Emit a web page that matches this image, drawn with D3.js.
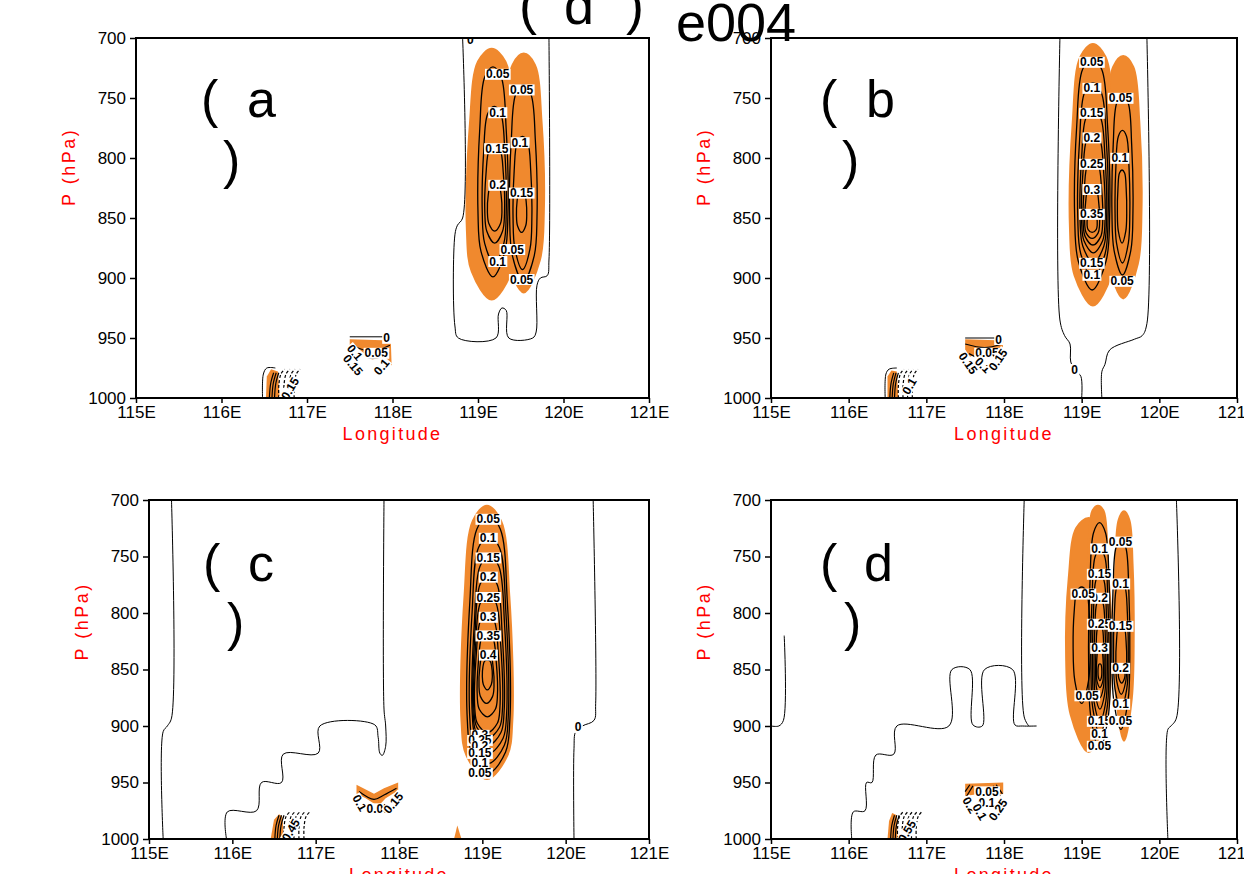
<!DOCTYPE html>
<html>
<head>
<meta charset="utf-8">
<script src="https://cdn.jsdelivr.net/npm/d3@7.9.0/dist/d3.min.js"></script>
<style>
  body { margin: 0; background: #fff; }
  svg { display: block; font-family: "Liberation Sans", Arial, sans-serif; }
</style>
</head>
<body>
<svg id="chart" width="1244" height="874"></svg>
<script>
const lonTicks = [115, 116, 117, 118, 119, 120, 121];
const presTicks = [700, 750, 800, 850, 900, 950, 1000];

// contour rings: [level, lonLeft, lonRight, pTop, pWidest, pBottom]
// orange fills:  [lonLeft, lonRight, pTop, pWidest, pBottom]
// labels:        [text, lon, p, rotation]

// ---- panel a
const ringsA = [
  [0.05, 119.0, 119.35, 724, 846, 899],
  [0.1, 119.05, 119.33, 757, 846, 888],
  [0.15, 119.08, 119.31, 789, 846, 871],
  [0.2, 119.11, 119.28, 820, 845, 861],
  [0.05, 119.37, 119.69, 739, 849, 903],
  [0.1, 119.41, 119.63, 782, 850, 893],
  [0.15, 119.45, 119.57, 827, 848, 862]
];
const fillA = [[118.87, 119.45, 709, 860, 918], [119.3, 119.77, 713, 845, 912]];
const labelsA = [
  ['0.05', 119.23, 730], ['0.05', 119.51, 743], ['0.1', 119.23, 762], ['0.1', 119.49, 787],
  ['0.15', 119.22, 792], ['0.2', 119.23, 822.5], ['0.15', 119.51, 829], ['0.05', 119.40, 876],
  ['0.1', 119.23, 886], ['0.05', 119.51, 901], ['0', 118.91, 701],
  ['0', 117.93, 950], ['0.05', 117.81, 962.5], ['0.1', 117.56, 962, 50], ['0.15', 117.54, 972.5, 50],
  ['0.1', 117.87, 974, -50], ['0.15', 116.8, 992, -60]
];
const zeroA = [
  [[118.82, 700], [118.82, 850], [118.76, 856], [118.73, 864], [118.73, 940], [118.77, 950], [119.21, 950],
   [119.24, 930], [119.28, 925], [119.33, 927], [119.36, 950], [119.64, 950], [119.68, 945], [119.69, 906],
   [119.73, 900], [119.81, 898], [119.83, 885], [119.83, 700]],
  [[116.48, 1000], [116.49, 980], [116.53, 975], [116.63, 975]],
  [[117.5, 949], [117.97, 949]]
];
const patchA = [
  [[116.52, 1000], [116.53, 982], [116.58, 976], [116.66, 978], [116.68, 1000]],
  [[117.5, 951], [117.98, 952], [117.99, 973], [117.9, 966], [117.76, 968], [117.62, 960], [117.5, 957]]
];
const linesA = [[[117.52, 956], [117.75, 961], [117.97, 956]], [[117.56, 962], [117.78, 967], [117.96, 962]]];
const solidA = [116.56, 116.59, 116.62];
const dashA = [116.67, 116.73, 116.79, 116.85];

// ---- panel b
const ringsB = [
  [0.05, 118.91, 119.36, 717, 849, 910],
  [0.1, 118.95, 119.34, 737.5, 850, 900],
  [0.15, 118.98, 119.32, 760, 852, 887.5],
  [0.2, 119.0, 119.3, 779, 854, 879],
  [0.25, 119.02, 119.27, 802, 855, 872.5],
  [0.3, 119.04, 119.23, 822.5, 856, 867],
  [0.35, 119.07, 119.2, 843, 856, 862],
  [0.05, 119.39, 119.66, 747.5, 846, 897.5],
  [0.1, 119.43, 119.62, 777, 846, 887.5],
  [0.15, 119.46, 119.58, 810, 846, 871]
];
const fillB = [[118.85, 119.44, 705, 860, 923], [119.3, 119.77, 715, 845, 917]];
const labelsB = [
  ['0.05', 119.13, 720], ['0.1', 119.13, 741.7], ['0.15', 119.13, 762.5], ['0.2', 119.13, 783],
  ['0.25', 119.13, 805], ['0.3', 119.13, 826], ['0.35', 119.13, 846.7], ['0.05', 119.5, 750],
  ['0.1', 119.49, 800], ['0.15', 119.13, 887.5], ['0.1', 119.13, 897.5], ['0.05', 119.52, 902.5],
  ['0', 118.91, 976],
  ['0', 117.93, 951], ['0.05', 117.78, 962.5], ['0.15', 117.54, 971, 55], ['0.1', 117.73, 972.5, 45],
  ['0.15', 117.92, 968, -55], ['0.1', 116.78, 990, -60]
];
const zeroB = [
  [[118.72, 700], [118.72, 935], [118.78, 948], [118.85, 955], [118.86, 970], [118.92, 977], [118.99, 982], [119.0, 1000]],
  [[119.84, 700], [119.84, 938], [119.78, 948], [119.68, 951], [119.36, 960], [119.3, 972], [119.26, 978], [119.26, 1000]],
  [[116.47, 1000], [116.48, 980], [116.52, 976], [116.62, 975]],
  [[117.5, 950], [117.91, 950]]
];
const patchB = [
  [[116.5, 1000], [116.5, 982], [116.55, 977], [116.62, 978], [116.64, 1000]],
  [[117.5, 951], [117.99, 952], [117.98, 962], [117.88, 968], [117.8, 963], [117.68, 962], [117.55, 966], [117.5, 960]]
];
const linesB = [[[117.5, 955], [117.75, 958], [117.98, 955]], [[117.55, 963], [117.7, 968]], [[117.85, 968], [117.97, 961]]];
const solidB = [116.53, 116.56, 116.59];
const dashB = [116.64, 116.7, 116.76, 116.82];

// ---- panel c
const ringsC = [
  [0.05, 118.82, 119.33, 713, 895, 941.6],
  [0.1, 118.85, 119.31, 731, 893, 933],
  [0.15, 118.88, 119.29, 748.7, 891, 924],
  [0.2, 118.89, 119.26, 766, 889, 917],
  [0.25, 118.9, 119.24, 784, 887, 910.6],
  [0.3, 118.91, 119.21, 801, 885, 906],
  [0.35, 118.94, 119.18, 818, 875, 892],
  [0.4, 118.96, 119.14, 835, 865, 880],
  [0.45, 119.0, 119.12, 841.6, 856, 868]
];
const fillC = [[118.75, 119.36, 705, 895, 947]];
const labelsC = [
  ['0.05', 119.07, 716.8], ['0.1', 119.07, 733.6], ['0.15', 119.07, 751], ['0.2', 119.07, 768],
  ['0.25', 119.07, 786], ['0.3', 119.07, 803.5], ['0.35', 119.07, 820], ['0.4', 119.07, 837],
  ['0.3', 118.97, 908], ['0.25', 118.97, 912.5], ['0.2', 118.97, 917.7], ['0.15', 118.97, 924],
  ['0.1', 118.97, 932.7], ['0.05', 118.97, 941.6], ['0', 120.15, 901],
  ['0.1', 117.53, 968, 60], ['0.05', 117.75, 973], ['0.15', 117.93, 968, -50], ['0.45', 116.7, 992, -60]
];
const zeroC = [
  [[115.27, 700], [115.27, 893], [115.22, 900], [115.17, 905], [115.17, 1000]],
  [[115.93, 1000], [115.94, 976], [116.29, 975], [116.35, 950], [116.59, 950], [116.61, 925], [117.03, 924],
   [117.05, 900], [117.71, 899], [117.75, 910], [117.77, 924], [117.8, 926], [117.84, 918], [117.84, 900],
   [117.82, 885], [117.82, 700]],
  [[120.33, 700], [120.36, 880], [120.34, 895], [120.2, 900], [120.12, 905], [120.1, 920], [120.1, 1000]]
];
const patchC = [
  [[116.46, 1000], [116.5, 983], [116.56, 978], [116.6, 980], [116.62, 1000]],
  [[117.49, 952], [117.7, 960], [117.82, 955], [117.99, 950], [117.99, 957], [117.84, 964], [117.75, 971], [117.6, 964], [117.49, 960]],
  [[118.66, 1000], [118.7, 988], [118.75, 1000]]
];
const linesC = [[[117.52, 958], [117.7, 965], [117.82, 961], [117.97, 955]]];
const solidC = [116.51, 116.54, 116.57];
const dashC = [116.62, 116.68, 116.74, 116.8, 116.86];

// ---- panel d
const ringsD = [
  [0.05, 119.09, 119.37, 720, 848, 921],
  [0.1, 119.12, 119.35, 743, 850, 907],
  [0.15, 119.14, 119.33, 765, 852, 896],
  [0.2, 119.16, 119.31, 787, 853, 885],
  [0.25, 119.18, 119.29, 810, 853, 875],
  [0.3, 119.19, 119.28, 831, 853, 866],
  [0.35, 119.21, 119.26, 845, 852, 860],
  [0.05, 118.89, 119.11, 777, 830, 880],
  [0.05, 119.39, 119.62, 735, 839, 903],
  [0.1, 119.41, 119.6, 772, 840, 885],
  [0.15, 119.44, 119.58, 810, 845, 872],
  [0.2, 119.47, 119.56, 846, 852, 862]
];
const fillD = [[118.8, 119.38, 716, 840, 923], [119.08, 119.34, 705, 770, 850], [119.42, 119.67, 710, 820, 913]];
const labelsD = [
  ['0.1', 119.23, 743], ['0.15', 119.23, 765.5], ['0.2', 119.23, 786.7], ['0.25', 119.23, 809.7],
  ['0.3', 119.23, 831], ['0.15', 119.23, 895.6], ['0.1', 119.23, 907], ['0.05', 119.23, 917.7],
  ['0.05', 119.02, 783], ['0.05', 119.07, 873],
  ['0.05', 119.5, 737], ['0.1', 119.5, 774], ['0.15', 119.5, 811.5], ['0.2', 119.5, 848.7],
  ['0.1', 119.5, 880.5], ['0.05', 119.5, 895.6],
  ['0.05', 117.78, 958], ['0.2', 117.56, 970, 60], ['0.1', 117.78, 968], ['0.1', 117.69, 976, 60],
  ['0.25', 117.92, 974, -55], ['0.55', 116.75, 993, -60]
];
const zeroD = [
  [[116.04, 1000], [116.06, 976], [116.21, 975], [116.23, 950], [116.30, 950], [116.35, 925.7], [116.58, 925],
   [116.62, 900], [117.29, 900], [117.33, 850], [117.56, 850], [117.6, 899], [117.72, 900], [117.75, 850],
   [118.11, 850], [118.14, 899], [118.24, 900], [118.42, 900]],
  [[118.26, 700], [118.26, 892], [118.32, 900]],
  [[115.17, 820], [115.16, 895], [115.1, 900], [115.0, 900]],
  [[120.22, 700], [120.22, 893], [120.15, 900], [120.11, 903], [120.11, 1000]]
];
const patchD = [
  [[116.5, 1000], [116.52, 984], [116.56, 977], [116.62, 979], [116.63, 1000]],
  [[117.5, 951], [117.99, 950], [117.99, 960], [117.85, 962], [117.7, 960], [117.5, 962]]
];
const linesD = [[[117.5, 958], [117.56, 952]], [[117.52, 962], [117.6, 953]], [[117.9, 952], [117.98, 960]], [[117.86, 953], [117.95, 962]]];
const solidD = [116.54, 116.57, 116.6];
const dashD = [116.63, 116.69, 116.75, 116.81, 116.87];

const panels = [
  { x0: 136, x1: 649, y0: 38, y1: 398, tag: 'a', tagX: [201, 247, 223], tagY: [117, 178],
    rings: ringsA, fills: fillA, labels: labelsA, zero: zeroA, patches: patchA, lines: linesA, solid: solidA, dash: dashA },
  { x0: 771, x1: 1237, y0: 38, y1: 398, tag: 'b', tagX: [820, 866, 842], tagY: [117, 178],
    rings: ringsB, fills: fillB, labels: labelsB, zero: zeroB, patches: patchB, lines: linesB, solid: solidB, dash: dashB },
  { x0: 149, x1: 649, y0: 500, y1: 839, tag: 'c', tagX: [203, 248, 227], tagY: [581, 640],
    rings: ringsC, fills: fillC, labels: labelsC, zero: zeroC, patches: patchC, lines: linesC, solid: solidC, dash: dashC },
  { x0: 771, x1: 1237, y0: 500, y1: 839, tag: 'd', tagX: [820, 864, 844], tagY: [581, 640],
    rings: ringsD, fills: fillD, labels: labelsD, zero: zeroD, patches: patchD, lines: linesD, solid: solidD, dash: dashD }
];

const ORANGE = '#f0892e';
const svg = d3.select('#chart');

// closed egg-shaped ring through the read extents
function ovalPts(lonL, lonR, pTop, pWide, pBot) {
  const cx = (lonL + lonR) / 2, rx = (lonR - lonL) / 2;
  const up = pWide - pTop, dn = pBot - pWide;
  const half = [[0, pTop], [0.55, pTop + 0.07 * up], [0.88, pTop + 0.42 * up], [1, pWide], [0.8, pWide + 0.6 * dn]];
  const right = half.map(([f, p]) => [cx + f * rx, p]);
  const left = half.slice(1).reverse().map(([f, p]) => [cx - f * rx, p]);
  return [...right, [cx, pBot], ...left];
}

panels.forEach((pn, i) => {
  const x = d3.scaleLinear().domain([115, 121]).range([pn.x0, pn.x1]);
  const y = d3.scaleLinear().domain([700, 1000]).range([pn.y0, pn.y1]);
  const g = svg.append('g');

  g.append('clipPath').attr('id', 'clip' + i)
    .append('rect').attr('x', pn.x0).attr('y', pn.y0)
    .attr('width', pn.x1 - pn.x0).attr('height', pn.y1 - pn.y0);
  const plot = g.append('g').attr('clip-path', `url(#clip${i})`);

  const smooth = d3.line().x((d) => x(d[0])).y((d) => y(d[1])).curve(d3.curveCatmullRomClosed.alpha(0.5));
  const poly = d3.line().x((d) => x(d[0])).y((d) => y(d[1])).curve(d3.curveLinearClosed);
  const open = d3.line().x((d) => x(d[0])).y((d) => y(d[1])).curve(d3.curveCatmullRom.alpha(0.5));

  // orange shading
  plot.selectAll('path.fill').data(pn.fills).join('path')
    .attr('class', 'fill').attr('d', (d) => smooth(ovalPts(...d)))
    .attr('fill', ORANGE).attr('stroke', ORANGE).attr('stroke-width', 2);
  plot.selectAll('path.patch').data(pn.patches).join('path')
    .attr('class', 'patch').attr('d', poly).attr('fill', ORANGE);

  // zero contour
  plot.selectAll('path.zero').data(pn.zero).join('path')
    .attr('class', 'zero').attr('d', open)
    .attr('fill', 'none').attr('stroke', '#000').attr('stroke-width', 1);

  // positive contours
  plot.selectAll('path.ring').data(pn.rings).join('path')
    .attr('class', 'ring').attr('d', (d) => smooth(ovalPts(d[1], d[2], d[3], d[4], d[5])))
    .attr('fill', 'none').attr('stroke', '#000').attr('stroke-width', 1.3);
  plot.selectAll('path.line').data(pn.lines).join('path')
    .attr('class', 'line').attr('d', open)
    .attr('fill', 'none').attr('stroke', '#000').attr('stroke-width', 1.2);

  // near-surface contours
  plot.selectAll('path.solid').data(pn.solid).join('path')
    .attr('class', 'solid')
    .attr('d', (l) => open([[l, 1000], [l + 0.015, 988], [l + 0.05, 979]]))
    .attr('fill', 'none').attr('stroke', '#000').attr('stroke-width', 1.2);
  plot.selectAll('path.dash').data(pn.dash).join('path')
    .attr('class', 'dash')
    .attr('d', (l) => open([[l, 1000], [l, 990], [l + 0.025, 980], [l + 0.07, 976]]))
    .attr('fill', 'none').attr('stroke', '#000').attr('stroke-width', 1.2)
    .attr('stroke-dasharray', '3,2');

  // contour labels
  pn.labels.forEach(([t, lon, p, rot]) => {
    const lg = plot.append('g')
      .attr('transform', `translate(${x(lon)},${y(p)}) rotate(${rot || 0})`);
    const bg = lg.append('rect').attr('fill', '#fff');
    const txt = lg.append('text').text(t)
      .attr('text-anchor', 'middle').attr('dy', '0.36em')
      .attr('font-size', 12).attr('font-weight', 'bold').attr('fill', '#000');
    const b = txt.node().getBBox();
    bg.attr('x', b.x - 1).attr('y', b.y + 1.5).attr('width', b.width + 2).attr('height', b.height - 3);
  });

  // axes
  const ax = g.append('g').attr('transform', `translate(0,${pn.y1})`)
    .call(d3.axisBottom(x).tickValues(lonTicks).tickFormat((d) => d + 'E').tickSize(5).tickPadding(3).tickSizeOuter(0));
  const ay = g.append('g').attr('transform', `translate(${pn.x0},0)`)
    .call(d3.axisLeft(y).tickValues(presTicks).tickFormat((d) => String(d)).tickSize(6).tickPadding(4).tickSizeOuter(0));
  [ax, ay].forEach((a) => {
    a.select('.domain').remove();
    a.selectAll('line').attr('stroke', '#000').attr('stroke-width', 1.5);
    a.selectAll('text').attr('font-size', 17).attr('fill', '#000')
      .attr('font-family', '"Liberation Sans", Arial, sans-serif');
  });
  g.append('rect').attr('x', pn.x0).attr('y', pn.y0)
    .attr('width', pn.x1 - pn.x0).attr('height', pn.y1 - pn.y0)
    .attr('fill', 'none').attr('stroke', '#000').attr('stroke-width', 2);

  // axis titles
  g.append('text').attr('x', (pn.x0 + pn.x1) / 2).attr('y', pn.y1 + 42)
    .attr('text-anchor', 'middle').attr('fill', '#f00')
    .attr('font-size', 18).attr('letter-spacing', 2.3).text('Longitude');
  g.append('text')
    .attr('transform', `translate(${pn.x0 - 61},${pn.y0 + 0.358 * (pn.y1 - pn.y0)}) rotate(-90)`)
    .attr('text-anchor', 'middle').attr('fill', '#f00')
    .attr('font-size', 18).attr('letter-spacing', 2.5).text('P (hPa)');

  // panel tag
  const tagFont = 52;
  g.append('text').attr('x', pn.tagX[0]).attr('y', pn.tagY[0]).attr('font-size', tagFont).text('(');
  g.append('text').attr('x', pn.tagX[1]).attr('y', pn.tagY[0]).attr('font-size', tagFont).text(pn.tag);
  g.append('text').attr('x', pn.tagX[2]).attr('y', pn.tagY[1]).attr('font-size', tagFont).text(')');
});

// main title
svg.append('text').attr('x', 519).attr('y', 24).attr('font-size', 54).text('(');
svg.append('text').attr('x', 564).attr('y', 24).attr('font-size', 54).text('d');
svg.append('text').attr('x', 626).attr('y', 24).attr('font-size', 54).text(')');
svg.append('text').attr('x', 676).attr('y', 41).attr('font-size', 54).text('e004');
</script>
</body>
</html>
